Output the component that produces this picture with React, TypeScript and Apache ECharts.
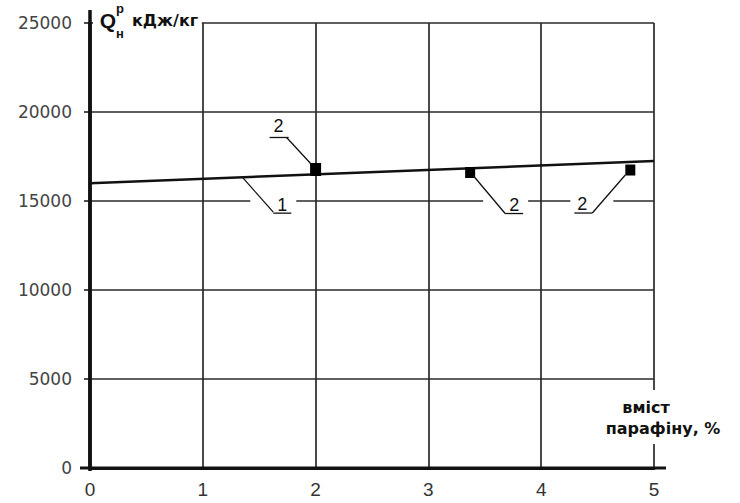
import React, { useEffect, useRef } from 'react';
import * as echarts from 'echarts';

const xTicks = [0, 1, 2, 3, 4, 5];
const yTicks = [0, 5000, 10000, 15000, 20000, 25000];
const lineX = [0, 5];
const lineY = [16000, 17250];
const pointX = [2, 3.37, 4.79];
const pointY = [16770, 16600, 16740];
const curveLabel = '1';
const curveLabelAt = [1.35, 16340];
const pointLabels = ['2', '2', '2'];
const xAxisNameLines = ['вміст', 'парафіну, %'];
const yAxisSymbol = 'Q';
const yAxisSup = 'р';
const yAxisSub = 'н';
const yAxisUnit = 'кДж/кг';

const INK = '#111';
const GRID = '#2a2a2a';

export default function App() {
  const ref = useRef<HTMLDivElement>(null);
  useEffect(() => {
    document.body.style.margin = '0';
    const chart = echarts.init(ref.current!, null, { renderer: 'svg' });
    chart.setOption({
      animation: false,
      backgroundColor: '#fff',
      grid: { left: 90, right: 86, top: 23, bottom: 35 },
      xAxis: {
        type: 'value',
        min: xTicks[0],
        max: xTicks[xTicks.length - 1],
        interval: 1,
        axisLine: { show: true, lineStyle: { color: INK, width: 3 } },
        axisTick: { show: false },
        splitLine: { show: true, lineStyle: { color: GRID, width: 1.7 } },
        axisLabel: { margin: 12, fontFamily: 'Liberation Sans', fontSize: 19, color: '#333', formatter: (v: number) => String(v) },
      },
      yAxis: {
        type: 'value',
        min: yTicks[0],
        max: yTicks[yTicks.length - 1],
        interval: 5000,
        axisLine: { show: true, lineStyle: { color: INK, width: 3.5 } },
        axisTick: { show: true, length: 6, lineStyle: { color: INK, width: 1.5 } },
        splitLine: { show: true, lineStyle: { color: GRID, width: 1.7 } },
        axisLabel: { margin: 18, fontFamily: 'DejaVu Sans', fontSize: 17, color: '#444', formatter: (v: number) => String(v) },
      },
      series: [
        {
          type: 'line',
          data: lineX.map((x, i) => [x, lineY[i]]),
          symbol: 'none',
          lineStyle: { color: INK, width: 2.5 },
          z: 5,
        },
        {
          type: 'scatter',
          data: pointX.map((x, i) => [x, pointY[i]]),
          symbol: 'rect',
          symbolSize: (v: number[]) => (v[0] === 2 ? [11, 13] : [10, 11]),
          itemStyle: { color: '#000', opacity: 1 },
          z: 6,
        },
      ],
    });

    const px = (x: number, y: number) => chart.convertToPixel({ gridIndex: 0 }, [x, y]) as number[];
    const g: any[] = [];
    const Z = 100;
    const white = (x1: number, y1: number, x2: number, y2: number) =>
      g.push({ type: 'rect', z: Z, shape: { x: x1, y: y1, width: x2 - x1, height: y2 - y1 }, style: { fill: '#fff' } });
    const seg = (x1: number, y1: number, x2: number, y2: number, w = 1.3) =>
      g.push({ type: 'line', z: Z + 1, shape: { x1, y1, x2, y2 }, style: { stroke: INK, lineWidth: w } });
    const txt = (x: number, y: number, text: string, font: string, size: number, weight = 'normal', align = 'center') =>
      g.push({
        type: 'text', z: Z + 2, x, y,
        style: { text, fontFamily: font, fontSize: size, fontWeight: weight, fill: INK, align, verticalAlign: 'middle' },
      });

    // axis extensions
    const o = px(0, 0);
    const e = px(5, 0);
    const top = px(0, 25000);
    seg(o[0] - 10, o[1], e[0] + 12, e[1], 3);
    seg(o[0], top[1] - 13, o[0], o[1] + 3, 3.5);

    // y-axis name
    const x1top = px(1, 25000);
    white(top[0] + 3, 0, x1top[0] - 1, top[1] + 17);
    txt(top[0] + 18, top[1] - 3, yAxisSymbol, 'Liberation Sans', 21, 'bold');
    txt(top[0] + 30, top[1] - 15, yAxisSup, 'Liberation Sans', 13, 'bold');
    txt(top[0] + 30, top[1] + 10, yAxisSub, 'Liberation Sans', 13, 'bold');
    txt(top[0] + 42, top[1] - 3, yAxisUnit, 'DejaVu Sans', 16, 'bold', 'left');

    // x-axis name
    white(e[0] - 58, e[1] - 78, e[0] + 76, e[1] - 24);
    txt(e[0] - 8, e[1] - 61, xAxisNameLines[0], 'DejaVu Sans', 16, 'bold');
    txt(e[0] + 9, e[1] - 40, xAxisNameLines[1], 'DejaVu Sans', 16, 'bold');

    // curve label "1"
    const c = px(curveLabelAt[0], curveLabelAt[1]);
    white(c[0] + 8, c[1] + 16, c[0] + 54, c[1] + 31);
    seg(c[0], c[1], c[0] + 31, c[1] + 35);
    seg(c[0] + 31, c[1] + 36, c[0] + 49, c[1] + 36);
    txt(c[0] + 40, c[1] + 28, curveLabel, 'Liberation Sans', 18);

    // point labels "2"
    const p0 = px(pointX[0], pointY[0]);
    seg(p0[0] - 29, p0[1] - 32, p0[0] - 5, p0[1] - 6);
    seg(p0[0] - 46, p0[1] - 32, p0[0] - 27, p0[1] - 32);
    txt(p0[0] - 37, p0[1] - 43, pointLabels[0], 'Liberation Sans', 18);

    const p1 = px(pointX[1], pointY[1]);
    white(p1[0] + 13, p1[1] + 21, p1[0] + 58, p1[1] + 36);
    seg(p1[0] + 3, p1[1] + 3, p1[0] + 35, p1[1] + 41);
    seg(p1[0] + 35, p1[1] + 41, p1[0] + 53, p1[1] + 41);
    txt(p1[0] + 44, p1[1] + 32, pointLabels[1], 'Liberation Sans', 18);

    const p2 = px(pointX[2], pointY[2]);
    white(p2[0] - 60, p2[1] + 23, p2[0] - 17, p2[1] + 38);
    seg(p2[0] - 5, p2[1] + 5, p2[0] - 38, p2[1] + 43);
    seg(p2[0] - 56, p2[1] + 43, p2[0] - 38, p2[1] + 43);
    txt(p2[0] - 48, p2[1] + 34, pointLabels[2], 'Liberation Sans', 18);

    chart.setOption({ graphic: { elements: g } });
    return () => chart.dispose();
  }, []);
  return <div ref={ref} style={{ width: 740, height: 503 }} />;
}
